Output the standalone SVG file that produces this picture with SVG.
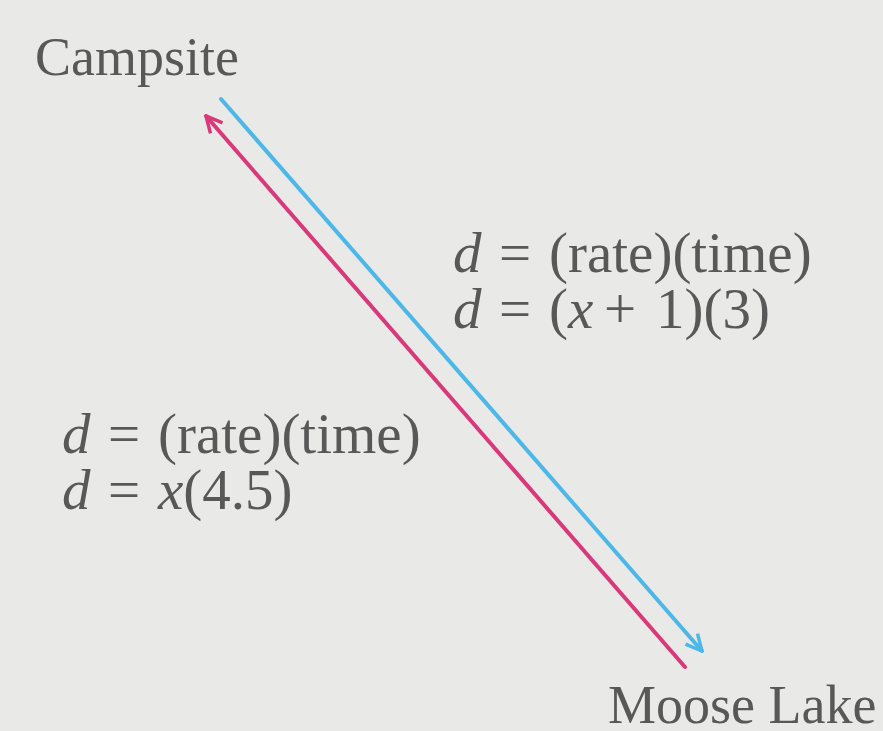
<svg xmlns="http://www.w3.org/2000/svg" width="883" height="731" viewBox="0 0 883 731">
<style>
.i{font-style:italic}
.ln{fill:none;stroke-width:4;stroke-linecap:round}
</style>
<defs>
<marker id="ab" viewBox="0 0 20 20" refX="18" refY="10" markerWidth="20" markerHeight="20" markerUnits="userSpaceOnUse" orient="auto"><path d="M2,2 L18,10 L2,18" fill="none" stroke="#4db8e8" stroke-width="3.5"/></marker>
<marker id="ap" viewBox="0 0 20 20" refX="18" refY="10" markerWidth="20" markerHeight="20" markerUnits="userSpaceOnUse" orient="auto"><path d="M2,2 L18,10 L2,18" fill="none" stroke="#d9397a" stroke-width="3.5"/></marker>
</defs>
<rect width="883" height="731" fill="#e9e9e7"/>
<g id="connectors">
<line class="ln" x1="221" y1="99" x2="702" y2="651" stroke="#4db8e8" marker-end="url(#ab)"/>
<line class="ln" x1="685" y1="667" x2="206" y2="116" stroke="#d9397a" marker-end="url(#ap)"/>
</g>
<g font-family="Liberation Serif" font-size="54" fill="#585858">
<g id="campsite"><text x="35" y="75">Campsite</text></g>
<g id="moose-lake"><text x="608" y="723">Moose Lake</text></g>
</g>
<g font-family="Liberation Serif" font-size="57" fill="#585858">
<g id="eq-right">
<text y="272"><tspan x="453" class="i">d</tspan><tspan x="499">=</tspan><tspan x="549">(rate)(time)</tspan></text>
<text y="328"><tspan x="453" class="i">d</tspan><tspan x="499">=</tspan><tspan x="549">(</tspan><tspan class="i">x</tspan><tspan x="604">+</tspan><tspan x="656">1)(3)</tspan></text>
</g>
<g id="eq-left">
<text y="453"><tspan x="62" class="i">d</tspan><tspan x="108">=</tspan><tspan x="158">(rate)(time)</tspan></text>
<text y="509"><tspan x="62" class="i">d</tspan><tspan x="108">=</tspan><tspan x="158" class="i">x</tspan><tspan>(4.5)</tspan></text>
</g>
</g>
</svg>
